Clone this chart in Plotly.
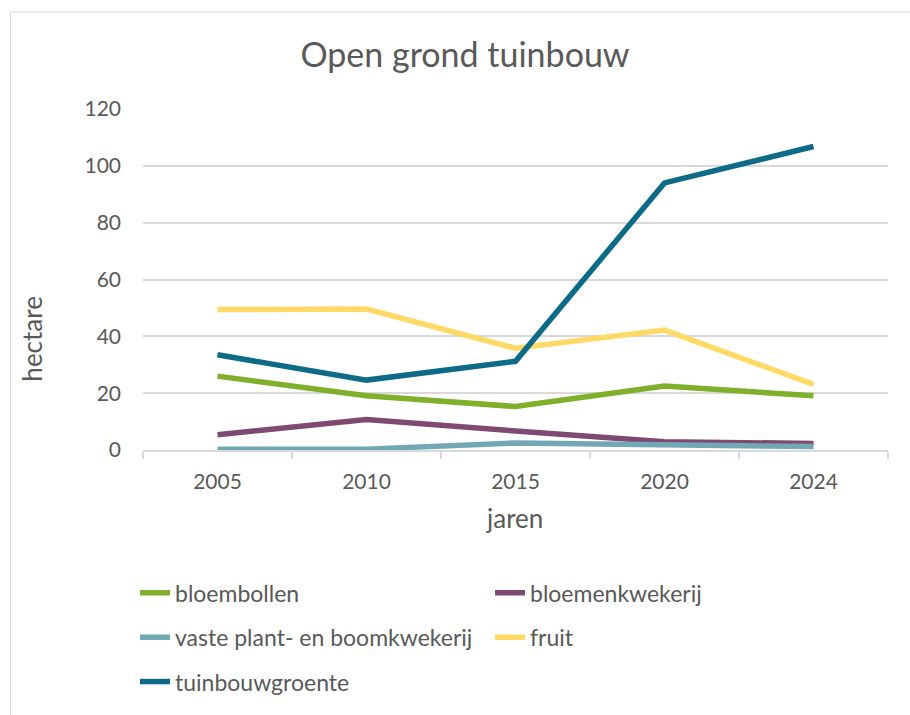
import plotly.graph_objects as go

years = ["2005", "2010", "2015", "2020", "2024"]
bloembollen = [26.0, 19.1, 15.3, 22.5, 19.1]
bloemenkwekerij = [5.4, 10.7, 6.7, 2.9, 2.3]
vaste_plant = [0.3, 0.3, 2.5, 1.7, 1.2]
fruit = [49.4, 49.6, 35.8, 42.2, 23.1]
tuinbouwgroente = [33.5, 24.6, 31.2, 94.0, 106.8]
y_ticks = [0, 20, 40, 60, 80, 100, 120]

series = [
    ("bloembollen", bloembollen, "#7FAF2B", "legend"),
    ("bloemenkwekerij", bloemenkwekerij, "#7F4A72", "legend"),
    ("vaste plant- en boomkwekerij", vaste_plant, "#72A8B6", "legend2"),
    ("fruit", fruit, "#FFD966", "legend2"),
    ("tuinbouwgroente", tuinbouwgroente, "#0E6B88", "legend3"),
]

TXT = "#595959"
GRID = "#D9D9D9"
FONT = "Lato"

W, H = 910, 715
L, R, T, B = 143, 888, 109, 455

def px_x(px):
    return (px - L) / (R - L)

def px_y(py):
    return (B - py) / (B - T)

fig = go.Figure()
for name, vals, col, lg in series:
    fig.add_trace(go.Scatter(
        x=years, y=vals, name=name, mode="lines",
        line=dict(color=col, width=5.5, shape="linear"),
        legend=lg,
    ))

legend_common = dict(
    orientation="h", xanchor="left", yanchor="middle",
    font=dict(family=FONT, size=23, color=TXT),
    entrywidth=310, entrywidthmode="pixels",
    bgcolor="rgba(0,0,0,0)", itemwidth=30,
)

fig.update_layout(
    width=W, height=H,
    margin=dict(l=L, r=W - R, t=T, b=H - B),
    paper_bgcolor="white", plot_bgcolor="white",
    font=dict(family=FONT, color=TXT),
    title=dict(text="Open grond tuinbouw", x=465 / W, xanchor="center",
               y=1 - 55 / H, yanchor="middle", xref="container", yref="container",
               font=dict(family=FONT, size=34, color=TXT)),
    xaxis=dict(
        type="category", range=[-0.5, 4.5],
        showgrid=False, showline=True, linecolor=GRID, linewidth=1.5,
        ticks="outside", tickson="boundaries", ticklen=7, tickcolor=GRID, tickwidth=1.5,
        tickfont=dict(family=FONT, size=21, color=TXT),
        ticklabelstandoff=12,
        zeroline=False,
    ),
    yaxis=dict(
        range=[0, 120], tickvals=y_ticks,
        showgrid=True, gridcolor=GRID, gridwidth=1.5,
        showline=False, ticks="", zeroline=False,
        tickfont=dict(family=FONT, size=21, color=TXT),
        ticklabelstandoff=21,
    ),
    legend=dict(x=px_x(135), y=px_y(600), **legend_common),
    legend2=dict(x=px_x(135), y=px_y(645), **legend_common),
    legend3=dict(x=px_x(135), y=px_y(690), **legend_common),
    annotations=[
        dict(text="jaren", xref="paper", yref="paper", x=px_x(514), y=px_y(524),
             xanchor="center", yanchor="middle", showarrow=False,
             font=dict(family=FONT, size=26, color=TXT)),
        dict(text="hectare", xref="paper", yref="paper", x=px_x(32), y=px_y(342),
             xanchor="center", yanchor="middle", showarrow=False, textangle=-90,
             font=dict(family=FONT, size=26, color=TXT)),
    ],
    shapes=[
        dict(type="rect", xref="paper", yref="paper",
             x0=px_x(10.5), x1=px_x(960), y0=px_y(10.5), y1=px_y(760),
             line=dict(color=GRID, width=1), fillcolor="rgba(0,0,0,0)", layer="below"),
    ],
)

fig.write_html("out.html", config={"displayModeBar": False},
               post_script="document.body.style.margin='0px';")
